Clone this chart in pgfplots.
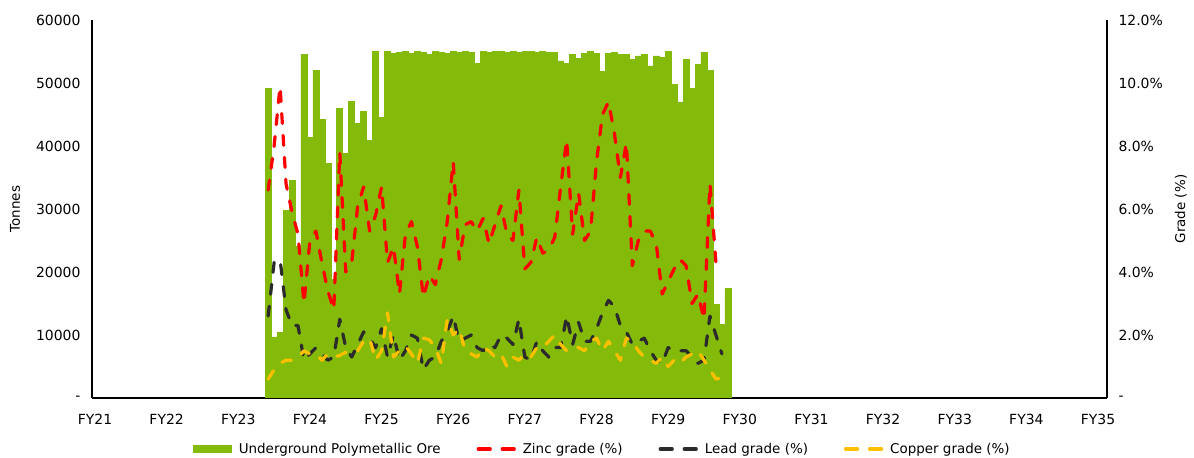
\documentclass[border=0pt]{standalone}
\usepackage{pgfplots}
\pgfplotsset{compat=1.18}
\usepackage{fontspec}
\setmainfont{DejaVu Sans}
\definecolor{ore}{HTML}{84BA0A}
\definecolor{zinc}{HTML}{FF0000}
\definecolor{lead}{HTML}{2B2B2B}
\definecolor{copper}{HTML}{FFC000}
\pgfplotsset{
  common/.style={
    at={(92bp,60bp)}, anchor=south west,
    width=1015bp, height=378bp, scale only axis,
    xmin=-0.5, xmax=169.5,
    major tick length=0,
    scaled y ticks=false,
    axis line style={-, line width=1.1bp, black},
    ticklabel style={font=\fontsize{14}{16}\selectfont},
    label style={font=\fontsize{13.5}{16}\selectfont},
  },
  gradeline/.style={line width=3.2bp, line cap=round, line join=round, dash pattern=on 10bp off 12bp},
  linelegend/.style={legend image code/.code={
    \draw[##1, solid, line cap=round] (1.5bp,0) -- (13.5bp,0) (25.5bp,0) -- (37.5bp,0);}},
}
\begin{document}
\begin{tikzpicture}
\path[use as bounding box] (0,0) rectangle (1194bp,458bp);
\begin{axis}[common,
  ybar, bar width=1,
  ymin=0, ymax=60000,
  axis x line*=bottom, axis y line*=left,
  xtick={0,12,...,168},
  xticklabels={FY21,FY22,FY23,FY24,FY25,FY26,FY27,FY28,FY29,FY30,FY31,FY32,FY33,FY34,FY35},
  xticklabel style={yshift=-13bp},
  ytick={0,10000,20000,30000,40000,50000,60000},
  yticklabels={-,10000,20000,30000,40000,50000,60000},
  yticklabel style={xshift=-8bp},
  ylabel={Tonnes},
  ylabel style={at={(axis description cs:-0.0759,0.5)}, anchor=center},
]
\addplot[fill=ore, draw=ore, line width=0.6bp] coordinates {
(29,49200) (30,9700) (31,10400) (32,29800) (33,34500) (34,24000) (35,54600) (36,41400) (37,52000) (38,44200)
(39,37300) (40,18800) (41,46000) (42,38800) (43,47100) (44,43600) (45,45500) (46,40900) (47,55000) (48,44600)
(49,55000) (50,54700) (51,54900) (52,55000) (53,54700) (54,55000) (55,54800) (56,54600) (57,55000) (58,54900)
(59,54700) (60,55000) (61,54800) (62,55000) (63,54900) (64,53100) (65,55000) (66,54800) (67,55000) (68,55000)
(69,54900) (70,55000) (71,54800) (72,55000) (73,55000) (74,54900) (75,55000) (76,54800) (77,54800) (78,53500)
(79,53100) (80,54600) (81,53900) (82,54700) (83,55000) (84,54700) (85,51900) (86,54700) (87,54800) (88,54600)
(89,54600) (90,53800) (91,54300) (92,54600) (93,52700) (94,54300) (95,54100) (96,55000) (97,49800) (98,47000)
(99,53800) (100,49200) (101,53000) (102,54900) (103,52000) (104,14800) (105,11700) (106,17400)
};
\end{axis}
\begin{axis}[common,
  ymin=0, ymax=12,
  axis y line*=right, axis x line=none,
  ytick={0,2,4,6,8,10,12},
  yticklabels={-,2.0\%,4.0\%,6.0\%,8.0\%,10.0\%,12.0\%},
  yticklabel style={xshift=8bp},
  ylabel={Grade (\%)},
  ylabel style={at={(axis description cs:1.0729,0.5)}, anchor=center},
  legend columns=4,
  legend style={at={(axis description cs:0.503,-0.135)}, anchor=center, draw=none, fill=none,
    font=\fontsize{13.5}{16}\selectfont, inner sep=0pt,
    /tikz/every odd column/.append style={column sep=5bp},
    /tikz/every even column/.append style={column sep=34bp}},
]
\addlegendimage{legend image code/.code={\fill[ore] (0bp,-3.5bp) rectangle (38bp,3.5bp);}}
\addlegendentry{Underground Polymetallic Ore}
\addplot[zinc, gradeline, linelegend] coordinates {
(29,6.6) (30,8.0) (31,9.9) (32,6.8) (33,5.9) (34,5.2) (35,3.0) (36,5.0) (37,5.3) (38,4.3)
(39,3.4) (40,2.8) (41,7.8) (42,4.0) (43,4.3) (44,6.1) (45,6.7) (46,5.3) (47,5.8) (48,6.7)
(49,4.3) (50,4.8) (51,3.3) (52,5.2) (53,5.6) (54,4.8) (55,3.2) (56,3.9) (57,3.6) (58,4.4)
(59,5.6) (60,7.5) (61,4.4) (62,5.5) (63,5.6) (64,5.3) (65,5.7) (66,4.9) (67,5.5) (68,6.1)
(69,5.2) (70,5.0) (71,6.6) (72,4.1) (73,4.3) (74,5.1) (75,4.6) (76,4.7) (77,5.1) (78,6.7)
(79,8.2) (80,5.2) (81,6.5) (82,5.0) (83,5.3) (84,7.5) (85,9.0) (86,9.4) (87,8.4) (88,7.0)
(89,8.1) (90,4.2) (91,5.0) (92,5.3) (93,5.3) (94,4.9) (95,3.3) (96,3.7) (97,4.1) (98,4.4)
(99,4.2) (100,3.0) (101,3.3) (102,2.5) (103,6.8) (104,4.3) (105,4.2)
};
\addlegendentry{Zinc grade (\%)}
\addplot[lead, gradeline, linelegend] coordinates {
(29,2.6) (30,4.3) (31,4.4) (32,2.8) (33,2.3) (34,2.3) (35,1.2) (36,1.4) (37,1.6) (38,1.4)
(39,1.2) (40,1.3) (41,2.5) (42,1.6) (43,1.3) (44,1.7) (45,2.1) (46,1.9) (47,1.6) (48,2.2)
(49,1.3) (50,2.0) (51,1.2) (52,1.5) (53,2.0) (54,1.9) (55,0.9) (56,1.2) (57,1.3) (58,1.8)
(59,2.1) (60,2.6) (61,1.8) (62,1.9) (63,2.0) (64,1.6) (65,1.5) (66,1.7) (67,1.6) (68,2.0)
(69,1.9) (70,1.7) (71,2.5) (72,1.3) (73,1.2) (74,1.8) (75,1.5) (76,1.3) (77,1.6) (78,1.6)
(79,2.6) (80,1.7) (81,2.4) (82,1.8) (83,1.8) (84,2.2) (85,2.7) (86,3.1) (87,2.9) (88,2.3)
(89,2.1) (90,1.7) (91,1.8) (92,1.9) (93,1.5) (94,1.2) (95,1.1) (96,1.6) (97,1.5) (98,1.5)
(99,1.5) (100,1.3) (101,1.1) (102,1.2) (103,2.6) (104,2.0) (105,1.4)
};
\addlegendentry{Lead grade (\%)}
\addplot[copper, gradeline, linelegend] coordinates {
(29,0.6) (30,0.9) (31,1.1) (32,1.2) (33,1.2) (34,1.3) (35,1.5) (36,1.4) (37,1.4) (38,1.2)
(39,1.4) (40,1.3) (41,1.35) (42,1.45) (43,1.5) (44,1.5) (45,1.8) (46,1.9) (47,1.2) (48,1.5)
(49,2.7) (50,1.3) (51,1.5) (52,1.65) (53,1.4) (54,1.1) (55,1.9) (56,1.85) (57,1.6) (58,1.1)
(59,2.5) (60,2.0) (61,2.2) (62,1.5) (63,1.4) (64,1.3) (65,1.6) (66,1.5) (67,1.3) (68,1.4)
(69,1.0) (70,1.3) (71,1.2) (72,1.4) (73,1.3) (74,1.6) (75,1.6) (76,1.8) (77,2.0) (78,1.7)
(79,1.5) (80,1.6) (81,1.6) (82,1.5) (83,1.8) (84,1.9) (85,1.5) (86,1.8) (87,1.5) (88,1.2)
(89,1.9) (90,1.8) (91,1.5) (92,1.3) (93,1.2) (94,1.1) (95,1.3) (96,1.0) (97,1.2) (98,1.1)
(99,1.3) (100,1.4) (101,1.5) (102,1.2) (103,0.9) (104,0.6) (105,0.65) (106,0.7)
};
\addlegendentry{Copper grade (\%)}
\end{axis}
\end{tikzpicture}
\end{document}
